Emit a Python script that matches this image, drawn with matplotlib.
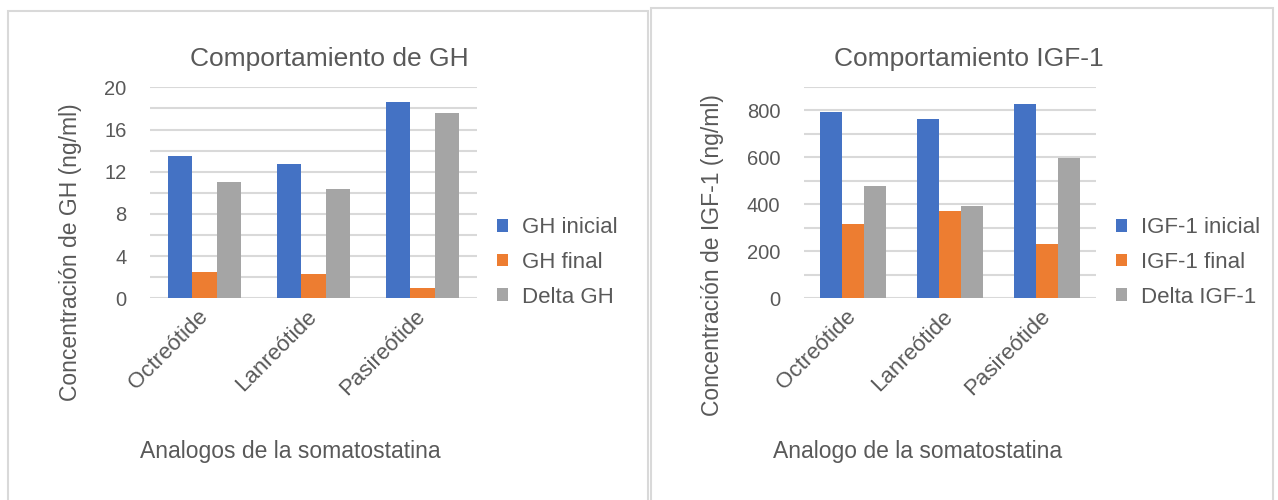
import numpy as np
import matplotlib.pyplot as plt
from matplotlib.patches import Rectangle

plt.rcParams["font.family"] = ["Liberation Sans", "DejaVu Sans"]

farmacos = ["Octreótide", "Lanreótide", "Pasireótide"]

gh_inicial = [13.5, 12.7, 18.6]
gh_final = [2.45, 2.3, 1.0]
gh_delta = [11.05, 10.4, 17.6]

igf_inicial = [793, 762, 827]
igf_final = [317, 371, 230]
igf_delta = [476, 391, 597]

colores = ["#4472C4", "#ED7D31", "#A5A5A5"]
texto = "#595959"
rejilla = "#D9D9D9"

W, H = 1278, 500
fig = plt.figure(figsize=(W / 100, H / 100), dpi=100)
fig.patch.set_facecolor("white")


def px_axes(x0, y_top, x1, y_bot):
    return fig.add_axes([x0 / W, 1 - y_bot / H, (x1 - x0) / W, (y_bot - y_top) / H])


def panel(x0, y0, x1):
    fig.patches.append(Rectangle((x0 / W, -0.01), (x1 - x0) / W, 1.01 - y0 / H,
                                 transform=fig.transFigure, fill=False,
                                 edgecolor=rejilla, lw=1.5))


def barras(ax, series, nombres, ymax, mayor, menor, titulo, ylabel, xlabel,
           tit_x, ylab_xy, xlab_xy, leg_xy):
    x = np.arange(len(farmacos))
    width = 0.225
    for i, (vals, nom) in enumerate(zip(series, nombres)):
        ax.bar(x + (i - 1) * width, vals, width, color=colores[i], label=nom,
               zorder=3)
    ax.set_xlim(-0.5, len(farmacos) - 0.5)
    ax.set_ylim(0, ymax)
    ax.set_yticks(np.arange(0, ymax + 0.1, mayor))
    ax.set_yticks(np.arange(0, ymax + 0.1, menor), minor=True)
    ax.grid(axis="y", which="both", color=rejilla, lw=1.5, zorder=0)
    for s in ax.spines.values():
        s.set_visible(False)
    ax.tick_params(axis="both", which="both", length=0, colors=texto)
    ax.tick_params(axis="y", pad=17, labelsize=14.5)
    ax.set_xticks(x)
    ax.set_xticklabels(farmacos, rotation=45, ha="right", va="center",
                       rotation_mode="anchor")
    ax.tick_params(axis="x", pad=11, labelsize=16)

    # titulo centrado sobre el recuadro del grafico, no sobre los ejes
    bb = ax.get_position()
    t = ax.set_title(titulo, fontsize=19, color=texto, pad=15)
    t.set_x((tit_x / W - bb.x0) / bb.width)

    ax.set_ylabel(ylabel, fontsize=16.5, color=texto)
    ax.yaxis.set_label_coords(ylab_xy[0] / W, 1 - ylab_xy[1] / H,
                              transform=fig.transFigure)
    ax.set_xlabel(xlabel, fontsize=16.5, color=texto)
    ax.xaxis.set_label_coords(xlab_xy[0] / W, 1 - xlab_xy[1] / H,
                              transform=fig.transFigure)
    leg = ax.legend(loc="upper left", bbox_to_anchor=(leg_xy[0] / W, 1 - leg_xy[1] / H),
                    bbox_transform=fig.transFigure, frameon=False, fontsize=16,
                    handlelength=0.5, handleheight=0.5, handletextpad=0.6,
                    labelspacing=0.62, borderpad=0)
    for t in leg.get_texts():
        t.set_color(texto)


panel(8, 11, 648)
panel(651, 8, 1273)

ax1 = px_axes(150, 87.3, 477, 298.3)
barras(ax1, [gh_inicial, gh_final, gh_delta],
       ["GH inicial", "GH final", "Delta GH"], 20, 4, 2,
       "Comportamiento de GH", "Concentración de GH (ng/ml)",
       "Analogos de la somatostatina", 329, (82, 252), (290, 440), (486, 206))

ax2 = px_axes(804, 86.7, 1096, 298.3)
barras(ax2, [igf_inicial, igf_final, igf_delta],
       ["IGF-1 inicial", "IGF-1 final", "Delta IGF-1"], 900, 200, 100,
       "Comportamiento IGF-1", "Concentración de IGF-1 (ng/ml)",
       "Analogo de la somatostatina", 969, (724, 255), (918, 440), (1105, 206))

fig.savefig("out.png", dpi=100, facecolor="white")
